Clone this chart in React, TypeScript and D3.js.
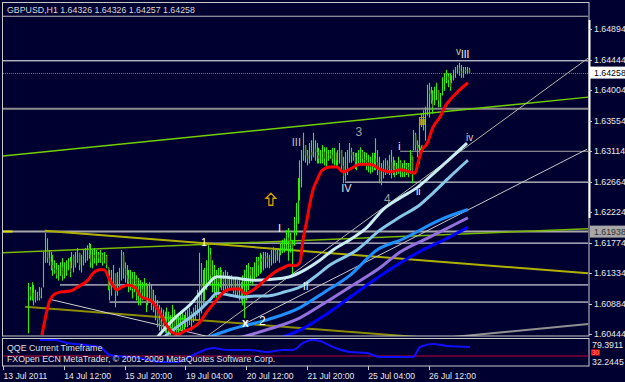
import React from "react";
import * as d3 from "d3";

// ---------- DATA ----------
// prices are stored in pips above 1.6000 (price = 1.6 + pips / 10000)
const FIRST_BAR = 13;
const highPips = [
  119,113,120,116,109,106,113,112,164,192,184,167,164,160,152,148,145,149,155,149,
  152,155,157,164,160,164,170,163,160,167,170,174,177,176,167,170,167,164,167,163,
  164,160,142,138,138,145,133,135,141,167,164,149,145,138,138,135,135,130,126,123,
  120,126,119,116,120,116,109,101,94,87,83,80,77,83,77,72,87,80,72,75,
  77,77,72,77,80,83,77,83,87,109,163,148,138,141,152,174,170,152,145,138,
  141,142,138,135,138,135,130,130,126,126,123,123,120,130,138,145,148,142,142,149,
  157,157,163,160,164,164,163,160,167,171,167,170,167,177,182,184,196,199,192,182,
  215,236,272,298,313,338,320,313,323,327,338,327,323,316,313,320,317,317,313,313,
  316,316,309,313,323,313,303,310,313,323,316,310,309,309,313,317,313,310,309,306,
  303,309,309,330,313,303,294,298,301,298,306,313,303,298,294,303,298,294,298,294,
  294,313,303,342,338,327,361,367,371,376,408,411,405,400,405,411,400,396,419,425,
  430,425,425,422,430,434,437,440,437,434,434,434,433
];
const lowPips = [
  46,94,94,87,91,94,94,97,113,149,149,145,138,130,133,126,123,130,123,126,
  130,138,128,141,135,142,149,138,135,145,149,152,155,142,141,148,145,149,149,145,
  148,141,109,94,101,116,84,101,112,123,126,120,116,106,109,97,106,94,87,87,
  94,97,77,87,94,80,77,65,55,50,47,50,47,46,43,43,50,46,43,46,
  50,50,47,55,55,58,50,62,65,72,65,75,87,94,109,123,116,106,98,98,
  106,113,109,106,109,106,112,109,104,101,98,94,94,87,68,94,109,119,116,123,
  128,130,133,135,138,141,142,141,145,148,149,152,149,160,163,164,167,152,164,130,
  174,189,206,240,259,298,295,291,294,298,303,298,294,294,294,294,291,288,298,301,
  294,291,288,291,294,284,265,269,277,295,295,298,286,284,291,294,291,291,284,281,
  279,281,284,284,277,265,262,272,277,279,277,272,277,274,277,279,274,274,274,277,
  274,279,265,313,313,303,294,347,342,327,364,361,381,367,379,386,376,376,393,400,
  411,405,400,411,415,419,425,422,419,419,425,424,426
];
const closePips = [
  110,100,105,95,98,100,97,108,160,165,155,150,145,140,138,130,135,142,130,140,
  145,150,135,158,145,160,165,145,150,160,165,170,160,150,160,155,160,155,160,150,
  158,145,115,110,125,135,105,120,135,160,140,130,125,120,125,110,125,105,100,110,
  105,115,90,100,110,90,85,80,65,60,55,65,55,60,50,55,70,55,50,60,
  65,60,62,70,65,75,70,75,80,100,120,110,125,130,145,160,130,120,125,130,
  120,135,125,120,130,115,120,125,110,115,105,110,100,95,110,130,140,130,135,140,
  150,145,155,150,158,155,150,155,160,165,160,165,162,172,175,178,185,180,175,170,
  205,225,265,290,305,320,305,300,310,305,315,310,305,300,305,310,300,305,308,305,
  300,310,298,305,315,290,275,300,305,310,305,303,295,300,305,310,300,298,295,290,
  288,295,300,295,285,270,275,285,290,285,295,285,290,285,290,295,285,280,290,288,
  285,305,280,335,320,315,350,355,360,365,400,395,385,375,395,400,385,390,410,415,
  420,415,405,415,425,430,432,428,425,430,428,430,425.8
];

// indicator lines: [bar index, pips]
const redMA = [[20.5,43],[22.6,72],[24.7,94],[27.4,103],[31,106],[35.3,107],[40.5,115],[44.7,123],[47.4,133],[51,138],[53.2,138],[56.3,123],[60,109],[62.6,113],[65.8,116],[69.5,112],[73.2,98],[77.4,94],[81,83],[85.3,61],[88.9,47],[92.1,44],[95.8,49],[99.5,53],[103.7,62],[107.4,77],[111.6,91],[116.8,107],[120.5,110],[124.7,110],[127.4,103],[130,106],[133.7,113],[137.9,123],[143.2,135],[147.4,141],[151,145],[153.7,144],[156.3,149],[157.9,182],[160,211],[161.6,236],[163.2,255],[165.3,269],[167.9,283],[172.1,288],[175.8,288],[178.9,281],[182.6,285],[187.9,292],[193.2,292],[198.4,285],[204.2,281],[209,284],[214.2,281],[216.8,279],[218.4,294],[220.5,313],[223.2,322],[226.3,346],[230,361],[232.6,376],[235.3,386],[239,397],[244.7,411]];
const lightMA = [[81,39],[90.5,68],[98.4,87],[106.3,112],[112.6,128],[122.1,126],[131.6,123],[140.5,124],[151,128],[158.9,138],[166.8,152],[173.7,167],[182.6,182],[191.6,200],[200,226],[209,243],[217.9,258],[224.7,274],[231.6,291],[244.2,323]];
const cyanMA = [[84.2,39],[93.2,58],[103.7,80],[108.9,94],[112.6,104],[119.5,101],[126.3,98],[132.6,100],[138.9,100],[148.4,106],[156.3,113],[164.2,128],[172.1,145],[186.3,167],[198.4,196],[208.9,215],[219.5,233],[226.3,250],[235.3,274],[244.7,298]];
const dodgerMA = [[107.4,39],[121,52],[138.9,65],[156.3,83],[169.5,106],[182.6,130],[196.8,167],[210.5,183],[230,211],[244.7,226]];
const purpleMA = [[124.7,39],[140.5,52],[156.3,68],[169.5,90],[182.6,113],[198.4,141],[209,164],[223.2,184],[244.7,214]];
const blueMA = [[145.8,39],[156.3,50],[169.5,72],[182.6,98],[198.4,129],[219.5,165],[233.7,184],[244.7,200]];

// QQE sub-window: [bar index, value]
const qqeLine = [[19.5,82.7],[27.4,82.7],[33.7,72.8],[43.2,66.2],[51,59.6],[56.3,33.3],[72.1,23.4],[82.6,10.2],[91.6,10.2],[96.8,23.4],[103.7,43.2],[110.5,56.3],[117.9,49.8],[130,49.8],[138.9,43.2],[147.4,49.8],[152.6,49.8],[157.9,72.8],[162.6,82.7],[166.8,79.4],[173.7,59.6],[182.6,43.2],[191.6,39.9],[198.4,26.7],[209,26.7],[215.8,26.7],[219.5,59.6],[226.3,69.5],[233.7,62.9],[245.8,59.6]];
const qqeLevel = 30;

// chart objects: [bar1, pips1, bar2, pips2]
const objLines = [
  [0,508,308,508],
  [0,443,308,443],
  [0,373,308,373],
  [0,304,308,390],
  [209,311,308,311],
  [180,266,308,266],
  [0,193.8,308,193.8],
  [105,177,308,177],
  [30,116,308,116],
  [56,91,308,91],
  [0,163,308,198],
  [22,195,308,133],
  [11.6,84,218,40],
  [236.8,40,308,59],
  [24.7,95,107.4,41],
  [107.4,41,308,447],
  [126.3,58,307.4,314],
  [0,193.8,5,193.8],
];
const objColors = ["#b8b8b8","#ffffff","#8c8c8c","#72d000","#a8a8a8","#ffffff","#a8a8a8","#ffffff","#ffffff","#ffffff","#78b800","#b0b000","#8c8c00","#909090","#d0d0d0","#b8b8a8","#c8c8c8","#e0e000"];
const objWidths = [1,1,2,1.5,1,1,2,1,1,1,1.5,2,2,2,1,1,1,2];

// wave labels: [text, bar, pips]
const waveText = ["III","3","IV","4","i","ii","iii","iv","v","i","v","III","1","2","x","I","II"];
const waveBar = [152,185.5,178,200.5,208,217.4,219,243.7,218.4,214.7,238.4,241,104.2,134.7,125.8,144.7,157.9];
const wavePips = [319,334,252,236,313,247,349,326,313,298,451,447,173,58,54,193,108];
const waveColors = ["#c0c0c0","#a0a0a0","#e0e0e0","#a0a0a0","#ffffff","#ffffff","#d4c000","#d0d0d0","#80ff00","#60c000","#d0d080","#ffffff","#ffffff","#ffffff","#ffffff","#ffffff","#ffffff"];
const waveSizes = [11,12,11,12,10,10,10,10,9,9,10,10,11,12,12,11,10];

const arrowBar = 141;
const arrowPips = 241;

const priceTicks = [1.64894,1.64444,1.64004,1.63554,1.63114,1.62664,1.62224,1.61774,1.61334,1.60884,1.60444];
const timeLabels = ["13 Jul 2011","14 Jul 12:00","15 Jul 20:00","19 Jul 04:00","20 Jul 12:00","21 Jul 20:00","25 Jul 04:00","26 Jul 12:00"];
const timeLabelBars = [0,32,64,96,128,160,192,224];

const title = "GBPUSD,H1  1.64326 1.64326 1.64257 1.64258";
const lastPrice = 1.64258;
const markPrice = 1.61938;

// ---------- COMPONENT ----------
export default function App() {
  const W = 625, H = 382;
  const BG = "#000030";
  const FONT = "'Liberation Sans', Arial, sans-serif";
  const x = d3.scaleLinear().domain([0, 224]).range([3, 428.6]);
  const y = d3.scaleLinear().domain([1.60444, 1.64894]).range([334, 29]);
  const P = (v: number) => 1.6 + v / 10000;
  const yp = (v: number) => y(P(v));
  const qy = d3.scaleLinear().domain([30, 80]).range([356, 340.8]);

  const maLine = d3.line<number[]>().x(d => x(d[0])).y(d => yp(d[1])).curve(d3.curveMonotoneX);
  const qLine = d3.line<number[]>().x(d => x(d[0])).y(d => qy(d[1])).curve(d3.curveMonotoneX);

  const bars = highPips.map((h, k) => {
    const i = FIRST_BAR + k;
    const l = lowPips[k];
    const c = closePips[k];
    const o = k > 0 ? closePips[k - 1] : c;
    const cx = Math.round(x(i)) + 0.5;
    const bear = c < o;
    const top = Math.min(h, Math.max(o, c));
    const bot = Math.max(l, Math.min(o, c));
    return (
      <g key={i}>
        <line x1={cx} x2={cx} y1={yp(h)} y2={yp(l) + 0.5} stroke="#2cf000" strokeWidth={1.1} />
        {bear && yp(bot) - yp(top) > 1 ? (
          <rect x={cx - 0.6} y={yp(top)} width={1.5} height={yp(bot) - yp(top)} fill="#5f7f1f" />
        ) : null}
      </g>
    );
  });

  const ax = x(arrowBar), ay = yp(arrowPips);
  const arrowPath = `M${ax},${ay - 6} L${ax + 5},${ay - 1} L${ax + 2},${ay - 1} L${ax + 2},${ay + 6} L${ax - 2},${ay + 6} L${ax - 2},${ay - 1} L${ax - 5},${ay - 1} Z`;

  return (
    <svg width={W} height={H} style={{ position: "absolute", left: 0, top: 0, display: "block" }} fontFamily={FONT}>
      <defs>
        <clipPath id="mainClip"><rect x={3} y={3} width={585.5} height={333} /></clipPath>
        <clipPath id="subClip"><rect x={3} y={339} width={585.5} height={26.5} /></clipPath>
      </defs>
      <rect x={0} y={0} width={W} height={H} fill={BG} />

      <g clipPath="url(#mainClip)">
        {objLines.map((s, k) => (
          <line key={k} x1={x(s[0])} y1={yp(s[1])} x2={x(s[2])} y2={yp(s[3])}
            stroke={objColors[k]} strokeWidth={objWidths[k]} />
        ))}
        <line x1={3} x2={589} y1={Math.round(y(lastPrice)) + 0.5} y2={Math.round(y(lastPrice)) + 0.5} stroke="#707070" strokeDasharray="1,1" />
        {bars}
        <path d={maLine(blueMA) || ""} fill="none" stroke="#0000ff" strokeWidth={3} />
        <path d={maLine(purpleMA) || ""} fill="none" stroke="#9370db" strokeWidth={3} />
        <path d={maLine(dodgerMA) || ""} fill="none" stroke="#1e90ff" strokeWidth={3} />
        <path d={maLine(cyanMA) || ""} fill="none" stroke="#87c8e8" strokeWidth={3} />
        <path d={maLine(lightMA) || ""} fill="none" stroke="#c8ecf0" strokeWidth={3} />
        <path d={maLine(redMA) || ""} fill="none" stroke="#ff0000" strokeWidth={3} />
        {waveText.map((t, k) => (
          <text key={k} x={x(waveBar[k])} y={yp(wavePips[k])} fill={waveColors[k]}
            fontSize={waveSizes[k]} fontWeight={t === "x" ? "bold" : "normal"}>{t}</text>
        ))}
        <path d={arrowPath} fill="none" stroke="#d0a000" strokeWidth={1.3} />
      </g>

      {/* frames */}
      <rect x={2.5} y={2.5} width={586.5} height={333.5} fill="none" stroke="#c8c8c8" strokeWidth={1} />
      <rect x={2.5} y={338.5} width={586.5} height={27.5} fill="none" stroke="#c8c8c8" strokeWidth={1} />
      <rect x={588.5} y={20} width={2} height={198} fill="#ffffff" />

      <text x={7} y={13} fill="#d8d8d8" fontSize={8.8}>{title}</text>

      {/* price axis */}
      {priceTicks.map((v, k) => (
        <g key={k}>
          <line x1={589} x2={592} y1={Math.round(y(v)) + 0.5} y2={Math.round(y(v)) + 0.5} stroke="#c8c8c8" />
          <text x={594} y={y(v) + 3} fill="#e8e8e8" fontSize={8.8}>{v.toFixed(5)}</text>
        </g>
      ))}
      <rect x={590} y={y(lastPrice) - 6} width={35} height={12} fill="#ffffff" />
      <text x={594} y={y(lastPrice) + 3} fill="#000000" fontSize={8.8}>{lastPrice.toFixed(5)}</text>
      <rect x={590} y={y(markPrice) - 6} width={35} height={12} fill="#a8a8a8" />
      <text x={594} y={y(markPrice) + 3} fill="#303030" fontSize={8.8}>{markPrice.toFixed(5)}</text>

      {/* sub window */}
      <g clipPath="url(#subClip)">
        <line x1={3} x2={589} y1={qy(qqeLevel)} y2={qy(qqeLevel)} stroke="#c0003c" strokeWidth={1} />
        <path d={qLine(qqeLine) || ""} fill="none" stroke="#1010ff" strokeWidth={2} />
      </g>
      <text x={7} y={351} fill="#e0e0e0" fontSize={8.8}>QQE Current Timeframe</text>
      <text x={7} y={361.5} fill="#e0e0e0" fontSize={8.8}>FXOpen ECN MetaTrader, © 2001-2009 MetaQuotes Software Corp.</text>
      <text x={592} y={348} fill="#e8e8e8" fontSize={8.8}>79.3911</text>
      <rect x={591} y={349.5} width={9} height={6} fill="#ff0000" />
      <text x={592} y={355} fill="#ff9090" fontSize={6.5}>30</text>
      <text x={592} y={364.5} fill="#e8e8e8" fontSize={8.8}>32.2445</text>

      {/* time axis */}
      {timeLabels.map((t, k) => (
        <g key={k}>
          <line x1={Math.round(x(timeLabelBars[k])) + 0.5} x2={Math.round(x(timeLabelBars[k])) + 0.5} y1={366} y2={370} stroke="#c8c8c8" />
          <text x={x(timeLabelBars[k]) + 0.5} y={378.5} fill="#e8e8e8" fontSize={8.6}>{t}</text>
        </g>
      ))}
    </svg>
  );
}
